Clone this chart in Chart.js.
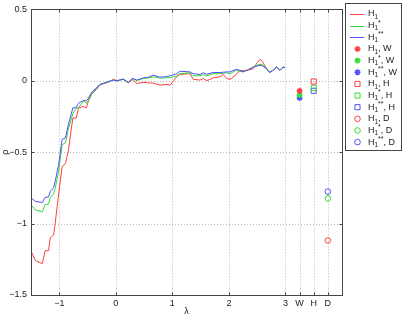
<!DOCTYPE html>
<html><head><meta charset="utf-8">
<script src="https://cdn.jsdelivr.net/npm/chart.js@4"></script>
<style>html,body{margin:0;padding:0;background:#fff;overflow:hidden}#wrap{width:404px;height:318px;position:relative}</style>
</head><body><div id="wrap"><canvas id="c" width="404" height="318"></canvas></div>
<script>
const lambda = [-1.49,-1.42,-1.30,-1.25,-1.19,-1.16,-1.10,-1.07,-1.01,-0.95,-0.89,-0.84,-0.76,-0.70,-0.66,-0.57,-0.52,-0.47,-0.42,-0.34,-0.28,-0.22,-0.13,-0.04,0.02,0.13,0.22,0.30,0.37,0.49,0.58,0.66,0.78,0.90,0.96,1.08,1.13,1.31,1.37,1.49,1.55,1.61,1.72,1.84,1.90,1.96,2.02,2.13,2.19,2.25,2.34,2.43,2.50,2.55,2.59,2.66,2.72,2.78,2.84,2.90,2.96,2.99];
const rhoH1 = [-1.20,-1.26,-1.28,-1.19,-1.19,-1.10,-1.08,-0.99,-0.79,-0.60,-0.58,-0.49,-0.26,-0.26,-0.19,-0.18,-0.19,-0.12,-0.09,-0.06,-0.03,-0.02,-0.01,0.01,0.00,0.01,-0.014,0.01,-0.02,-0.01,-0.015,-0.015,-0.03,-0.025,-0.03,0.03,0.044,0.05,0.01,0.005,0.016,0.0,0.02,0.028,0.044,0.016,0.01,0.044,0.074,0.07,0.074,0.085,0.127,0.15,0.137,0.09,0.058,0.074,0.097,0.074,0.097,0.09];
const rhoH1s = [-0.875,-0.905,-0.917,-0.868,-0.863,-0.817,-0.794,-0.748,-0.632,-0.447,-0.435,-0.34,-0.23,-0.19,-0.19,-0.141,-0.157,-0.134,-0.088,-0.053,-0.026,-0.02,-0.005,0.005,0.0,0.012,-0.012,0.016,0.002,0.016,0.021,0.028,0.019,0.021,0.021,0.035,0.05,0.056,0.035,0.035,0.044,0.035,0.05,0.05,0.052,0.056,0.05,0.074,0.067,0.0625,0.078,0.097,0.109,0.116,0.114,0.09,0.0625,0.074,0.097,0.074,0.097,0.092];
const rhoH1ss = [-0.822,-0.845,-0.852,-0.817,-0.813,-0.776,-0.748,-0.70,-0.585,-0.41,-0.40,-0.308,-0.19,-0.188,-0.157,-0.137,-0.141,-0.111,-0.076,-0.049,-0.025,-0.018,-0.005,0.005,0.0,0.012,-0.01,0.018,0.005,0.021,0.025,0.04,0.025,0.03,0.035,0.05,0.067,0.0625,0.05,0.044,0.056,0.046,0.058,0.058,0.06,0.0625,0.0625,0.08,0.074,0.0625,0.078,0.095,0.104,0.109,0.105,0.085,0.058,0.074,0.097,0.074,0.095,0.092];
const methodNames = ['W','H','D'];
const methodX = [3.25,3.5,3.75];
const methodH1 = [-0.07,-0.005,-1.118];
const methodH1s = [-0.10,-0.05,-0.824];
const methodH1ss = [-0.12,-0.07,-0.776];
const xTickValues = [-1,0,1,2,3,3.25,3.5,3.75];
const xTickLabels = ['\u22121','0','1','2','3','W','H','D'];
const yTickValues = [-1.5,-1,-0.5,0,0.5];
const yTickLabels = ['\u22121.5','\u22121','\u22120.5','0','0.5'];

const seriesSup = ['', '*', '**'];
const seriesColors = ['#ff4040','#33dd33','#5050ff'];
const lineSeries = [rhoH1, rhoH1s, rhoH1ss];
const methodSeries = [methodH1, methodH1s, methodH1ss];
const methodStyles = ['star','rect','circle'];
const methodRadius = [3,3.6,2.8];

const datasets = [];
lineSeries.forEach((ys,i)=>{
  datasets.push({type:'line', sup:seriesSup[i], suffix:'', data: lambda.map((x,k)=>({x, y: ys[k]})),
    borderColor: seriesColors[i], borderWidth:1, pointRadius:0, fill:false, tension:0, order: 3-i});
});
methodNames.forEach((m,j)=>{
  methodSeries.forEach((vals,i)=>{
    datasets.push({type:'scatter', sup:seriesSup[i], suffix:', '+m, data:[{x:methodX[j], y:vals[j]}],
      borderColor: seriesColors[i], backgroundColor: methodStyles[j]==='star'? seriesColors[i] : 'rgba(0,0,0,0)',
      pointStyle: methodStyles[j], pointRadius: methodRadius[j], borderWidth: methodStyles[j]==='star'?1.5:1, showLine:false});
  });
});

const FONT = '"Liberation Sans", Arial, sans-serif';

const framePlugin = {
  id:'frame',
  beforeDatasetsDraw(chart){
    const {ctx, chartArea:a, scales:{x,y}} = chart;
    ctx.save();
    ctx.strokeStyle='#b8b8b8'; ctx.lineWidth=1; ctx.setLineDash([1,2]);
    xTickValues.forEach(v=>{ const px=Math.round(x.getPixelForValue(v))+0.5; ctx.beginPath(); ctx.moveTo(px,a.top); ctx.lineTo(px,a.bottom); ctx.stroke();});
    yTickValues.forEach(v=>{ const py=Math.round(y.getPixelForValue(v))+0.5; ctx.beginPath(); ctx.moveTo(a.left,py); ctx.lineTo(a.right,py); ctx.stroke();});
    ctx.restore();
  },
  afterDatasetsDraw(chart){
    const {ctx, chartArea:a, scales:{x,y}} = chart;
    ctx.save();
    ctx.strokeStyle='#444'; ctx.lineWidth=1; ctx.setLineDash([]);
    const L=Math.round(a.left)+0.5, R=Math.round(a.right)+0.5, T=Math.round(a.top)+0.5, B=Math.round(a.bottom)+0.5;
    ctx.strokeRect(L,T,R-L,B-T);
    const tl=3;
    ctx.beginPath();
    xTickValues.forEach(v=>{ const px=Math.round(x.getPixelForValue(v))+0.5; ctx.moveTo(px,B); ctx.lineTo(px,B-tl); ctx.moveTo(px,T); ctx.lineTo(px,T+tl);});
    yTickValues.forEach(v=>{ const py=Math.round(y.getPixelForValue(v))+0.5; ctx.moveTo(L,py); ctx.lineTo(L+tl,py); ctx.moveTo(R,py); ctx.lineTo(R-tl,py);});
    ctx.stroke();
    ctx.restore();
  },
  afterDraw(chart){
    const ctx = chart.ctx;
    ctx.save();
    const bx=345.5, by=3.5, bw=56, bh=147;
    ctx.fillStyle='#fff'; ctx.fillRect(bx,by,bw,bh);
    ctx.strokeStyle='#444'; ctx.lineWidth=1; ctx.strokeRect(bx,by,bw,bh);
    chart.data.datasets.forEach((ds,i)=>{
      const yy = 14 + 11.65*i;
      if (ds.type==='line'){
        ctx.strokeStyle=ds.borderColor; ctx.lineWidth=1;
        ctx.beginPath(); ctx.moveTo(350,Math.round(yy)+0.5); ctx.lineTo(364,Math.round(yy)+0.5); ctx.stroke();
      } else {
        ctx.strokeStyle=ds.borderColor; ctx.fillStyle=ds.backgroundColor; ctx.lineWidth=ds.borderWidth;
        Chart.helpers.drawPoint(ctx,{pointStyle:ds.pointStyle, radius:ds.pointRadius, rotation:0, borderWidth:ds.borderWidth},357.5,yy);
      }
      ctx.fillStyle='#222'; ctx.textBaseline='middle'; ctx.textAlign='left';
      let tx=368;
      ctx.font='9px '+FONT; ctx.fillText('H',tx,yy); tx+=ctx.measureText('H').width;
      ctx.font='6.5px '+FONT; ctx.fillText('1',tx,yy+3); tx+=ctx.measureText('1').width;
      if (ds.sup){ ctx.font='7px '+FONT; ctx.fillText(ds.sup,tx,yy-3); tx+=ctx.measureText(ds.sup).width; }
      if (ds.suffix){ ctx.font='9px '+FONT; ctx.fillText(ds.suffix,tx,yy); }
    });
    ctx.restore();
  }
};

new Chart(document.getElementById('c'), {
  data:{datasets},
  options:{
    responsive:false, animation:false, devicePixelRatio:1,
    layout:{padding:{left:0, top:7, right:62, bottom:0}},
    plugins:{legend:{display:false}, tooltip:{enabled:false}},
    scales:{
      x:{type:'linear', min:-1.5, max:4,
        afterBuildTicks(s){ s.ticks = xTickValues.map(v=>({value:v})); },
        afterFit(s){ s.height = 23; },
        grid:{display:false, drawTicks:false}, border:{display:false},
        ticks:{autoSkip:false, maxRotation:0, padding:3, color:'#222', font:{family:FONT, size:9},
          callback:(v,i)=>xTickLabels[i]},
        title:{display:true, text:'\u03bb', color:'#222', font:{family:FONT, size:9}, padding:{top:0,bottom:1}}
      },
      y:{type:'linear', min:-1.5, max:0.5,
        afterBuildTicks(s){ s.ticks = yTickValues.map(v=>({value:v})); },
        afterFit(s){ s.width = 31; },
        grid:{display:false, drawTicks:false}, border:{display:false},
        ticks:{autoSkip:false, padding:4, color:'#222', font:{family:FONT, size:9},
          callback:(v,i)=>yTickLabels[i]},
        title:{display:true, text:'\u03c1', color:'#222', font:{family:FONT, size:9}, padding:{top:0,bottom:0}}
      }
    }
  },
  plugins:[framePlugin]
});
</script></body></html>
